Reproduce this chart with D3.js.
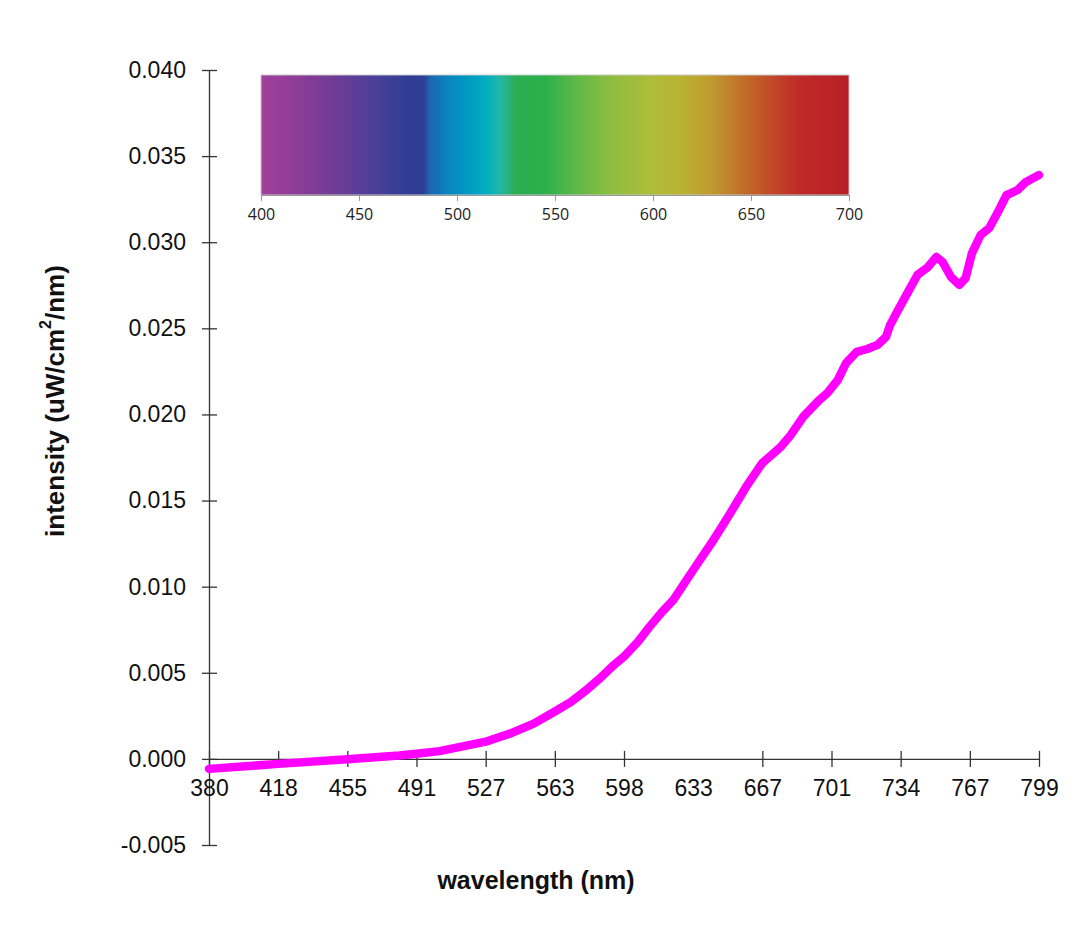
<!DOCTYPE html>
<html>
<head>
<meta charset="utf-8">
<script src="https://cdn.jsdelivr.net/npm/d3@7"></script>
<style>
  body { margin: 0; background: #fff; }
  svg { display: block; }
</style>
</head>
<body>
<div id="chart"></div>
<script>
// measured spectrum (wavelength in nm, intensity in uW/cm2/nm)
var wavelength = [380, 418, 455, 482, 491, 503, 527, 540, 552, 563, 571, 579, 586, 592,
  598, 605, 611, 617, 623, 631, 636, 643, 651, 659, 667, 676, 681, 687, 695, 699,
  704, 708, 713, 718, 723, 727, 729, 732, 738, 742, 747, 751, 754, 758, 762, 765,
  768, 772, 776, 780, 784, 789, 793, 799];
var intensity = [-0.00058, -0.00029, -0.00002, 0.00020, 0.00030, 0.00045, 0.00100, 0.00148,
  0.00205, 0.00275, 0.00330, 0.00400, 0.00470, 0.00536, 0.00594, 0.00680, 0.00768,
  0.00850, 0.00923, 0.01062, 0.01149, 0.01271, 0.01422, 0.01579, 0.01718, 0.01811,
  0.01881, 0.01985, 0.02084, 0.02125, 0.02200, 0.02299, 0.02363, 0.02380, 0.02404,
  0.02450, 0.02520, 0.02589, 0.02722, 0.02810, 0.02856, 0.02914, 0.02885, 0.02798,
  0.02752, 0.02792, 0.02937, 0.03042, 0.03083, 0.03176, 0.03274, 0.03303, 0.03350,
  0.03390];

// category-style x axis labels (evenly spaced)
var xTicks = [380, 418, 455, 491, 527, 563, 598, 633, 667, 701, 734, 767, 799];
var xNoTickMark = [633];
var yTicks = [-0.005, 0, 0.005, 0.010, 0.015, 0.020, 0.025, 0.030, 0.035, 0.040];

// visible spectrum inset
var spectrumTicks = [400, 450, 500, 550, 600, 650, 700];
var spectrumNm = [400, 420, 440, 460, 475, 483, 486, 495, 505, 515, 522, 530, 545, 560,
  580, 600, 615, 630, 645, 660, 675, 700];
var spectrumColor = ["#a2409b", "#8b3c97", "#6b3c95", "#47409a", "#2f3d92", "#2d3f94",
  "#1f62b0", "#0a84c0", "#0098c2", "#00afc0", "#22b7a6", "#2aae52", "#2bb04a", "#5cb847",
  "#90be40", "#afbd38", "#bab231", "#c09a30", "#c17029", "#c14a28", "#c02a28", "#b81f25"];

var width = 1081, height = 952;

var svg = d3.select("#chart").append("svg")
  .attr("width", width)
  .attr("height", height);

// scales
var x = d3.scaleLinear()
  .domain(xTicks)
  .range(xTicks.map(function(d, i) { return 209 + i * (1039 - 209) / (xTicks.length - 1); }));
var y = d3.scaleLinear().domain([-0.005, 0.040]).range([845, 70]);

var axisColor = "#333";
var font = "'Liberation Sans', Arial, sans-serif";

// y axis
var yAxis = svg.append("g")
  .attr("transform", "translate(209,0)")
  .call(d3.axisLeft(y).tickValues(yTicks).tickSize(7).tickSizeOuter(0).tickPadding(16)
    .tickFormat(d3.format(".3f")));
yAxis.selectAll("line").attr("x1", 8).attr("stroke", axisColor).attr("stroke-width", 1.3);
yAxis.select(".domain").attr("stroke", axisColor).attr("stroke-width", 1.3);
yAxis.selectAll("text")
  .style("font-family", font).style("font-size", "23px").attr("fill", "#111")
  .text(function(d) { return d < 0 ? "-" + d3.format(".3f")(-d) : d3.format(".3f")(d); });

// x axis at zero
var xAxis = svg.append("g")
  .attr("transform", "translate(0," + y(0) + ")")
  .call(d3.axisBottom(x).tickValues(xTicks).tickSize(8).tickSizeOuter(0).tickPadding(13)
    .tickFormat(d3.format("d")));
xAxis.selectAll("line").attr("y1", -8).attr("stroke", axisColor).attr("stroke-width", 1.3)
  .attr("opacity", function(d) { return xNoTickMark.indexOf(d) >= 0 ? 0 : 1; });
xAxis.select(".domain").attr("stroke", axisColor).attr("stroke-width", 1.3);
xAxis.selectAll("text")
  .style("font-family", font).style("font-size", "23px").attr("fill", "#111");

// the spectrum curve
var pts = wavelength.map(function(w, i) { return [w, intensity[i]]; });
svg.append("path")
  .datum(pts)
  .attr("fill", "none")
  .attr("stroke", "#ff00ff")
  .attr("stroke-width", 8.5)
  .attr("stroke-linejoin", "round")
  .attr("stroke-linecap", "round")
  .attr("d", d3.line()
    .x(function(d) { return x(d[0]); })
    .y(function(d) { return y(d[1]); }));

// axis titles
svg.append("text")
  .attr("x", 536).attr("y", 882)
  .attr("text-anchor", "middle").attr("dominant-baseline", "middle")
  .style("font-family", font).style("font-size", "25px").style("font-weight", "bold")
  .attr("fill", "#111")
  .text("wavelength (nm)");

var yTitle = svg.append("text")
  .attr("transform", "translate(57,401) rotate(-90)")
  .attr("text-anchor", "middle").attr("dominant-baseline", "middle")
  .style("font-family", font).style("font-size", "26px").style("font-weight", "bold")
  .attr("fill", "#111");
yTitle.append("tspan").text("intensity (uW/cm");
yTitle.append("tspan").attr("dy", -10).style("font-size", "16px").text("2");
yTitle.append("tspan").attr("dy", 10).text("/nm)");

// spectrum inset
var s = d3.scaleLinear().domain([400, 700]).range([261, 849]);
var grad = svg.append("defs").append("linearGradient")
  .attr("id", "spectrum")
  .attr("x1", "0%").attr("x2", "100%").attr("y1", "0%").attr("y2", "0%");
grad.selectAll("stop")
  .data(spectrumNm)
  .enter().append("stop")
    .attr("offset", function(d) { return ((d - 400) / 300 * 100) + "%"; })
    .attr("stop-color", function(d, i) { return spectrumColor[i]; });

svg.append("rect")
  .attr("x", s(400)).attr("y", 75)
  .attr("width", s(700) - s(400)).attr("height", 120)
  .attr("fill", "url(#spectrum)")
  .attr("stroke", "#c8c8c8").attr("stroke-width", 1);

var sAxis = svg.append("g")
  .attr("transform", "translate(0,195)")
  .call(d3.axisBottom(s).tickValues(spectrumTicks).tickSize(6).tickSizeOuter(0).tickPadding(8));
sAxis.selectAll("line").attr("stroke", "#999");
sAxis.select(".domain").attr("stroke", "#999");
sAxis.selectAll("text")
  .style("font-family", "'Open Sans', sans-serif").style("font-size", "16px").attr("fill", "#222");
</script>
</body>
</html>
